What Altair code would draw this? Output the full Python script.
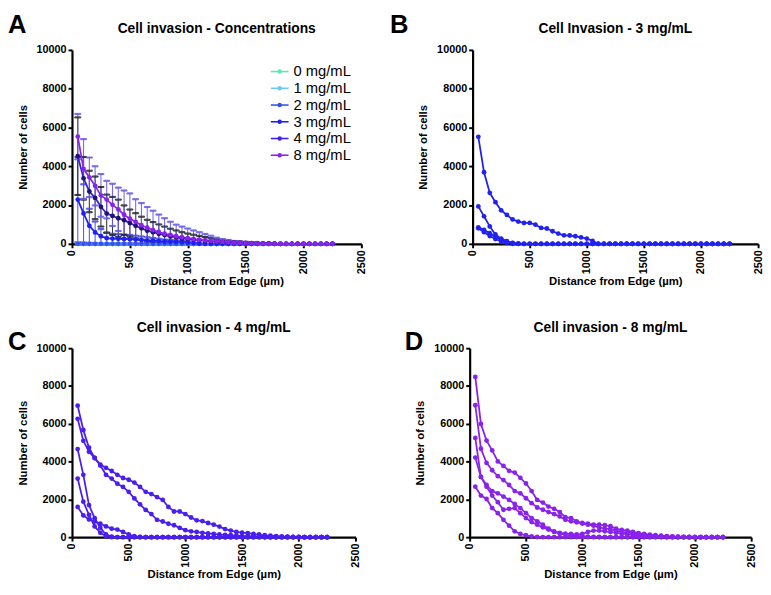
import altair as alt
import pandas as pd

FONT = "Liberation Sans"

distance = [50, 100, 150, 200, 250, 300, 350, 400, 450, 500, 550, 600, 650, 700, 750,
            800, 850, 900, 950, 1000, 1050, 1100, 1150, 1200, 1250, 1300, 1350, 1400,
            1450, 1500, 1550, 1600, 1650, 1700, 1750, 1800, 1850, 1900, 1950, 2000,
            2050, 2100, 2150, 2200, 2250]
N = len(distance)


def pad(v):
    return v + [0] * (N - len(v))


conc_labels = ["0 mg/mL", "1 mg/mL", "2 mg/mL", "3 mg/mL", "4 mg/mL", "8 mg/mL"]
line_colors = ["#5ee6b8", "#6cc8f2", "#3452ee", "#2020f2", "#3b1fd6", "#8a22ee"]
point_colors = ["#5ee6b8", "#6cc8f2", "#3452ee", "#2020f2", "#1e1470", "#8a22ee"]
legend_colors = ["#5ee6b8", "#6cc8f2", "#3452ee", "#2020f2", "#4420ee", "#8a22ee"]

# Panel A: mean curves
mean_0 = pad([])
mean_1 = pad([])
mean_2 = pad([])
mean_3 = pad([2280, 1570, 930, 590, 390, 290, 270, 260, 250, 240, 220, 200, 180, 160, 140,
              120, 110, 100, 90, 70, 40, 10])
mean_4 = pad([4520, 3380, 2700, 2370, 1910, 1560, 1440, 1320, 1220, 1070, 930, 800, 680, 600,
              520, 450, 380, 330, 280, 250, 220, 190, 160, 130, 110, 90, 80, 70, 60, 50, 40,
              30, 20, 20, 10])
mean_8 = pad([5530, 3860, 3430, 2990, 2500, 2280, 2010, 1780, 1500, 1300, 1130, 960, 830, 710,
              610, 520, 460, 390, 340, 290, 250, 210, 180, 150, 120, 100, 80, 60, 50, 40, 30,
              20, 10])
# Panel A: error bars
err_3 = pad([2200, 1500, 880, 560, 370, 280, 250, 240, 230, 220, 200, 180, 160, 140, 120, 100,
             90, 80, 70, 60, 30, 10])
err_4 = pad([2000, 1100, 1070, 1100, 1020, 980, 980, 960, 760, 700, 650, 600, 560, 520, 480,
             440, 400, 360, 320, 280, 250, 220, 190, 160, 130, 110, 90, 70, 60, 50, 40, 30,
             20, 10])
err_8 = pad([1170, 1540, 1020, 1010, 1100, 970, 1090, 1120, 1250, 1300, 1170, 1140, 1070, 1000,
             900, 800, 680, 600, 550, 500, 440, 390, 330, 270, 200, 150, 120, 90, 70, 50, 40,
             30, 20, 10])

# Panel B: 3 mg/mL replicates
b_1 = pad([5520, 3690, 2630, 2150, 1730, 1490, 1260, 1150, 1080, 1080, 990, 820, 790, 650, 530,
           440, 430, 390, 330, 270, 150])
b_2 = pad([1930, 1420, 900, 480, 270, 140, 50, 20])
b_3 = pad([850, 720, 550, 350, 200, 100, 30])
b_4 = pad([800, 600, 400, 250, 120, 50])

# Panel C: 4 mg/mL replicates
c_1 = pad([6960, 5670, 4730, 4190, 3840, 3670, 3500, 3300, 3130, 3040, 2890, 2660, 2400, 2280,
           2120, 1970, 1600, 1360, 1360, 1220, 1040, 890, 850, 750, 660, 560, 430, 350, 280,
           240, 210, 170, 140, 100, 80, 60, 40, 30, 20, 10])
c_2 = pad([6260, 5100, 4520, 4190, 3790, 3300, 3100, 2830, 2660, 2400, 2050, 1740, 1440, 1220,
           920, 830, 710, 630, 490, 370, 310, 280, 230, 200, 170, 140, 120, 100, 80, 60, 50,
           40, 30, 20, 10])
c_3 = pad([4660, 3300, 1700, 1000, 490, 140, 30])
c_4 = pad([3100, 1880, 1180, 570, 230, 50])
c_5 = pad([1600, 1150, 940, 830, 710, 570, 450, 400, 280, 140, 50, 20])

# Panel D: 8 mg/mL replicates
d_1 = pad([8480, 5990, 5110, 4590, 4010, 3770, 3510, 3420, 3140, 2840, 2440, 1970, 1830, 1620,
           1500, 1330, 1060, 1010, 840, 750, 720, 660, 660, 630, 580, 450, 380, 350, 280, 210,
           170, 130, 100, 80, 60, 40, 30, 20, 10])
d_2 = pad([6980, 4680, 3930, 3540, 3230, 3020, 2760, 2440, 2320, 2060, 1800, 1570, 1450, 1330,
           1220, 1100, 920, 840, 790, 720, 660, 610, 520, 450, 420, 350, 280, 240, 200, 160,
           120, 90, 70, 50, 30, 20, 10])
d_3 = pad([5250, 3190, 2760, 2440, 2320, 2150, 1970, 1760, 1540, 1270, 1010, 840, 660, 450, 310,
           230, 190, 170, 140, 170, 280, 350, 350, 310, 280, 230, 190, 150, 120, 90, 70, 50, 30,
           20, 10])
d_4 = pad([4210, 3190, 2670, 2200, 1850, 1450, 1500, 1540, 1270, 1010, 800, 660, 520, 400, 280,
           190, 140, 100, 70, 50, 30, 20, 10])
d_5 = pad([2670, 2200, 2020, 1540, 1270, 920, 610, 310, 170, 100, 40, 10])

panel_letters = ["A", "B", "C", "D"]
panel_titles = ["Cell invasion - Concentrations", "Cell Invasion - 3 mg/mL",
                "Cell invasion - 4 mg/mL", "Cell invasion - 8 mg/mL"]
x_ticks = [0, 500, 1000, 1500, 2000, 2500]
H_TOP = 197
H_BOTTOM = 192


def long_df(series, labels):
    rows = []
    for lab, vals in zip(labels, series):
        for xv, yv in zip(distance, vals):
            rows.append({"rep": lab, "x": xv, "y": yv})
    return pd.DataFrame(rows)


def x_enc(field="x:Q"):
    return alt.X(field, scale=alt.Scale(domain=[0, 2500], nice=False),
                 axis=alt.Axis(values=x_ticks, format="d", title="Distance from Edge (µm)",
                               labelAngle=270, labelPadding=2, titlePadding=2,
                               labelOverlap=False))


def y_enc(field="y:Q"):
    return alt.Y(field, scale=alt.Scale(domain=[0, 10000], nice=False),
                 axis=alt.Axis(tickCount=5, format="d", title="Number of cells",
                               titlePadding=8, labelOverlap=False, labelPadding=2,
                               labelBound=False))


def deco_layers(letter, ptitle, width, dx, dy, ty):
    let = alt.Chart(pd.DataFrame({"t": [letter]})).mark_text(
        align="left", baseline="top", fontSize=26, fontWeight="bold", font=FONT, color="black"
    ).encode(x=alt.value(dx), y=alt.value(dy), text="t:N")
    tit = alt.Chart(pd.DataFrame({"t": [ptitle]})).mark_text(
        align="center", baseline="alphabetic", fontSize=14, fontWeight="bold", font=FONT,
        color="black"
    ).encode(x=alt.value(width / 2), y=alt.value(ty), text="t:N")
    return alt.layer(let, tit)


# ---------- Panel A ----------
W_A = 294
df_a = long_df([mean_0, mean_1, mean_2, mean_3, mean_4, mean_8], conc_labels)
err_labels = ["3 mg/mL", "4 mg/mL", "8 mg/mL"]
err_rows = []
for lab, m, e in zip(err_labels, [mean_3, mean_4, mean_8], [err_3, err_4, err_8]):
    for xv, mv, ev in zip(distance, m, e):
        if ev > 0:
            err_rows.append({"rep": lab, "x": xv, "mean": mv, "err": ev})
df_err = pd.DataFrame(err_rows)
err_scale = alt.Scale(domain=err_labels, range=["#4848f0", "#222222", "#6a58f2"])

err_base = alt.Chart(df_err).transform_calculate(
    hi="datum.mean + datum.err", lo="max(datum.mean - datum.err, 0)")
err_rule = err_base.mark_rule(strokeWidth=1.1, opacity=0.9).encode(
    x=x_enc(), y=y_enc("lo:Q"), y2="hi:Q",
    stroke=alt.Stroke("rep:N", scale=err_scale, legend=None))
err_cap_hi = err_base.mark_tick(orient="horizontal", size=6, thickness=1.1, opacity=0.9).encode(
    x=x_enc(), y=y_enc("hi:Q"), stroke=alt.Stroke("rep:N", scale=err_scale, legend=None))
err_cap_lo = err_base.mark_tick(orient="horizontal", size=6, thickness=1.1, opacity=0.9).encode(
    x=x_enc(), y=y_enc("lo:Q"), stroke=alt.Stroke("rep:N", scale=err_scale, legend=None))

color_scale = alt.Scale(domain=conc_labels, range=line_colors)
lines_a = alt.Chart(df_a).mark_line(strokeWidth=1.8).encode(
    x=x_enc(), y=y_enc(),
    color=alt.Color("rep:N", scale=color_scale, legend=None),
    order=alt.Order("x:Q"))
pts_a = alt.Chart(df_a).mark_circle(size=24, opacity=1).encode(
    x=x_enc(), y=y_enc(),
    fill=alt.Fill("rep:N", scale=alt.Scale(domain=conc_labels, range=point_colors), legend=None))

main_a = alt.layer(err_rule, err_cap_hi, err_cap_lo, lines_a, pts_a)

leg_df = pd.DataFrame({"rep": conc_labels})
leg_y = alt.Y("rep:N", sort=conc_labels, axis=None,
              scale=alt.Scale(range=[22, 107], padding=0))
leg_scale = alt.Scale(domain=conc_labels, range=legend_colors)
leg_line = alt.Chart(leg_df).mark_point(shape="M-1,0L1,0", filled=False, size=324,
                                        strokeWidth=1.6, opacity=1).encode(
    x=alt.value(211), y=leg_y, stroke=alt.Stroke("rep:N", scale=leg_scale, legend=None))
leg_dot = alt.Chart(leg_df).mark_circle(size=20, opacity=1).encode(
    x=alt.value(211), y=leg_y, fill=alt.Fill("rep:N", scale=leg_scale, legend=None))
leg_text = alt.Chart(leg_df).mark_text(align="left", baseline="middle", fontSize=15,
                                       font=FONT, color="black").encode(
    x=alt.value(225), y=leg_y, text="rep:N")

panel_a = alt.layer(
    main_a, alt.layer(leg_line, leg_dot, leg_text),
    deco_layers(panel_letters[0], panel_titles[0], W_A, -65, -38, -17)
).resolve_scale(y="independent", fill="independent", stroke="independent").properties(
    width=W_A, height=H_TOP)


def replicate_panel(series, color, letter, ptitle, dx, dy, ty, width, height):
    labels = ["r%d" % (i + 1) for i in range(len(series))]
    df = long_df(series, labels)
    lines = alt.Chart(df).mark_line(strokeWidth=1.8, color=color).encode(
        x=x_enc(), y=y_enc(), detail="rep:N", order=alt.Order("x:Q"))
    pts = alt.Chart(df).mark_circle(size=24, opacity=1, color=color).encode(
        x=x_enc(), y=y_enc())
    return alt.layer(lines, pts, deco_layers(letter, ptitle, width, dx, dy, ty)).properties(
        width=width, height=height)


panel_b = replicate_panel([b_1, b_2, b_3, b_4], "#2222f0", panel_letters[1], panel_titles[1],
                          -84, -38, -17, 290, H_TOP)
panel_c = replicate_panel([c_1, c_2, c_3, c_4, c_5], "#4a1ef2", panel_letters[2],
                          panel_titles[2], -65, -19, -16, 288, H_BOTTOM)
panel_d = replicate_panel([d_1, d_2, d_3, d_4, d_5], "#8a22ee", panel_letters[3],
                          panel_titles[3], -66, -19, -16, 286, H_BOTTOM)

chart = alt.vconcat(
    alt.hconcat(panel_a, panel_b, spacing=24),
    alt.hconcat(panel_c, panel_d, spacing=45),
    spacing=35,
).configure_view(stroke=None).configure_axis(
    grid=False, domainColor="black", domainWidth=2.2, tickColor="black", tickWidth=2,
    tickSize=4, labelFont=FONT, labelFontSize=11, labelFontWeight="bold", labelColor="black",
    titleFont=FONT, titleFontSize=11.5, titleFontWeight="bold", titleColor="black",
    labelFlush=False, labelOverlap=False
).configure_axisY(labelOverlap=False).properties(
    background="white", padding={"left": 0, "top": 0, "right": 0, "bottom": 0})

chart.save("out.html", embed_options={"renderer": "svg", "actions": False})
